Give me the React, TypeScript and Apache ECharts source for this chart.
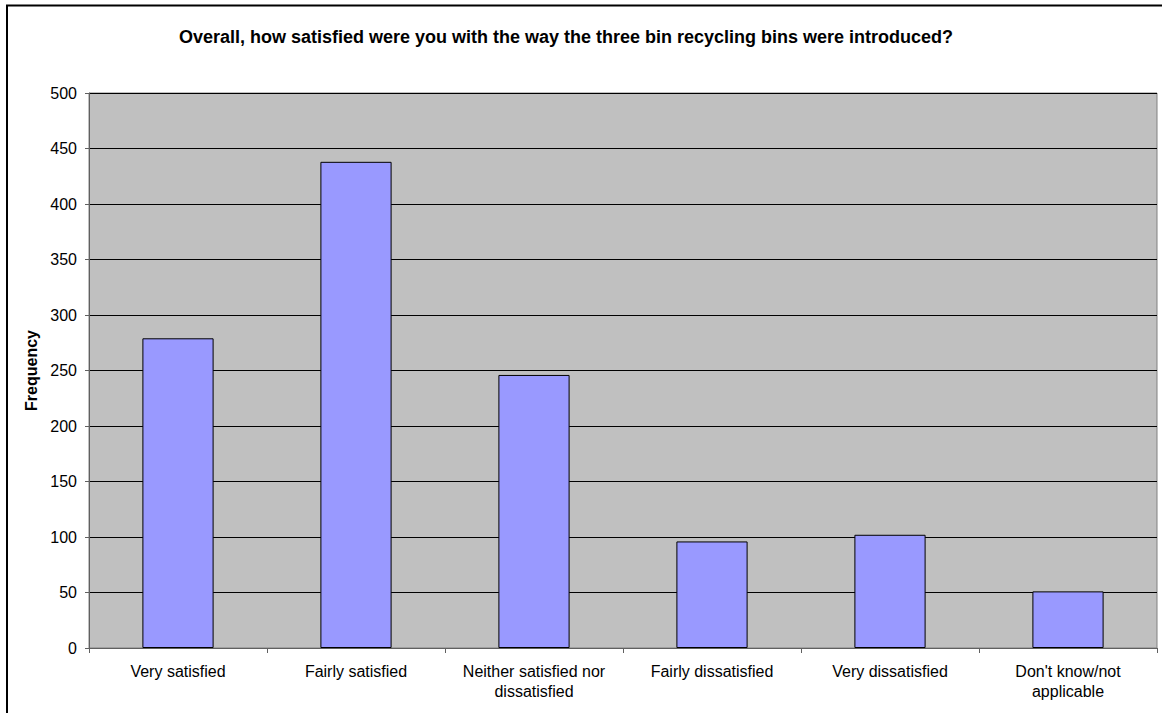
import React, { useEffect, useRef } from "react";
import * as echarts from "echarts";

const titleText =
  "Overall, how satisfied were you with the way the three bin recycling bins were introduced?";
const categories = [
  "Very satisfied",
  "Fairly satisfied",
  "Neither satisfied nor\ndissatisfied",
  "Fairly dissatisfied",
  "Very dissatisfied",
  "Don't know/not\napplicable",
];
const frequency = [279, 438, 246, 96, 102, 51];
const yMin = 0;
const yMax = 500;
const yStep = 50;

export default function App() {
  const ref = useRef<HTMLDivElement>(null);
  useEffect(() => {
    if (!ref.current) return;
    const chart = echarts.init(ref.current, null, { renderer: "svg" });
    const font = "Arial, 'Liberation Sans', sans-serif";
    chart.setOption({
      animation: false,
      backgroundColor: "#ffffff",
      textStyle: { fontFamily: font },
      title: {
        text: titleText,
        left: 566,
        top: 28,
        padding: 0,
        textAlign: "center",
        textStyle: { fontSize: 18, fontWeight: "bold", color: "#000", fontFamily: font },
      },
      graphic: [
        {
          type: "rect",
          shape: { x: 7, y: 5.5, width: 1200, height: 800 },
          style: { fill: "none", stroke: "#000", lineWidth: 2 },
          silent: true,
        },
      ],
      grid: {
        left: 89,
        right: 5,
        top: 93,
        bottom: 65,
        show: true,
        backgroundColor: "#C0C0C0",
        borderColor: "#808080",
        borderWidth: 1,
      },
      xAxis: {
        type: "category",
        data: categories,
        axisLine: { lineStyle: { color: "#606060", width: 1 } },
        axisTick: { show: true, length: 5, lineStyle: { color: "#606060" } },
        axisLabel: {
          interval: 0,
          color: "#000",
          fontSize: 16,
          lineHeight: 20,
          margin: 13,
          fontFamily: font,
        },
      },
      yAxis: {
        type: "value",
        min: yMin,
        max: yMax,
        interval: yStep,
        name: "Frequency",
        nameLocation: "middle",
        nameGap: 44,
        nameTextStyle: { fontSize: 16, fontWeight: "bold", color: "#000", fontFamily: font },
        axisLine: { show: true, lineStyle: { color: "#606060", width: 1 } },
        axisTick: { show: true, length: 4, lineStyle: { color: "#606060" } },
        axisLabel: { color: "#000", fontSize: 16, margin: 12, fontFamily: font },
        splitLine: { show: true, lineStyle: { color: "#000", width: 1 } },
      },
      series: [
        {
          type: "bar",
          data: frequency,
          barWidth: "40%",
          itemStyle: { color: "#9999FF", borderColor: "#000", borderWidth: 1 },
        },
      ],
    });
    return () => chart.dispose();
  }, []);
  return (
    <div
      ref={ref}
      style={{ position: "fixed", left: 0, top: 0, width: 1162, height: 713 }}
    />
  );
}
